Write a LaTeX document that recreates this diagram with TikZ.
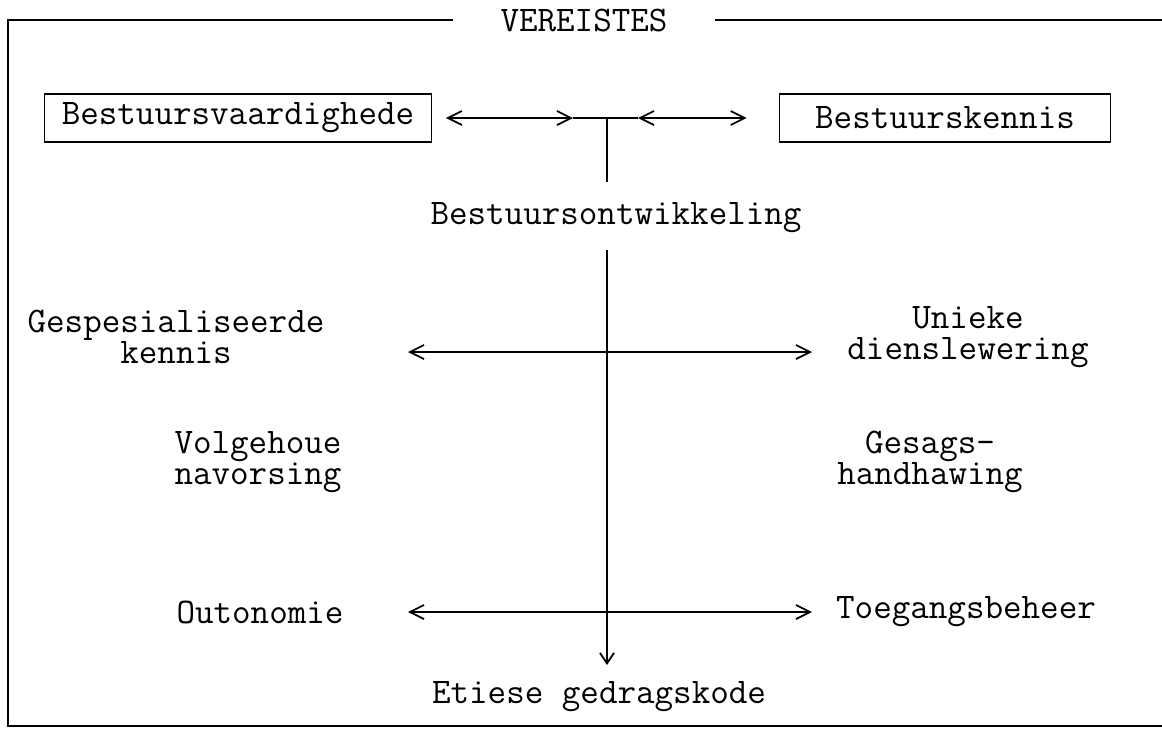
\documentclass[tikz,border=0pt]{standalone}
\usepackage{fontspec}
\usepackage{tikz}
\usetikzlibrary{arrows.meta}

\newcommand{\diagfont}{\fontsize{20.5pt}{17.5pt}\selectfont\ttfamily\lineskiplimit=-50pt\relax}

\tikzset{
  teks/.style={font=\diagfont, align=center, inner sep=1pt},
  kassie/.style={teks, draw, line width=1pt, minimum height=0.96cm},
  raam/.style={line width=1pt},
  pyl/.style={line width=1pt, {Straight Barb[length=8pt,width=8pt]}-{Straight Barb[length=8pt,width=8pt]}},
  afpyl/.style={line width=1pt, -{Straight Barb[length=6pt,width=8pt]}}
}

\begin{document}
\begin{tikzpicture}[x=0.02cm, y=-0.02cm]
    \useasboundingbox (0,0) rectangle (1162,728);

    % Frame with title
    \node[teks, inner xsep=27pt] (titel) at (584,20) {VEREISTES};
    \draw[raam] (titel.west) -- (8,20) -- (8,726) -- (1162,726);
    \draw[raam] (titel.east) -- (1162,20);

    % Top row
    \node[kassie, minimum width=7.74cm] (vaard) at (238,118) {Bestuursvaardighede};
    \node[kassie, minimum width=6.62cm] (kennis) at (945,118) {Bestuurskennis};
    \coordinate (tak) at (607,118);
    \coordinate (stam) at (607,182);

    \draw[pyl] ([xshift=0.27cm]vaard.east) -- ([xshift=-0.68cm]tak);
    \draw[raam] ([xshift=-0.68cm]tak) -- ([xshift=0.62cm]tak);
    \draw[pyl] ([xshift=0.62cm]tak) -- ([xshift=-0.64cm]kennis.west);
    \draw[raam] (tak) -- (stam);

    \node[teks] (ontw) at (616,218) {Bestuursontwikkeling};

    % Side labels
    \node[teks] (spes) at (176,337) {Gespesialiseerde\\kennis};
    \node[teks] (uniek) at (968,337) {Unieke\\dienslewering};
    \node[teks] (volg) at (258,462) {Volgehoue\\navorsing};
    \node[teks] (gesag) at (930,462) {Gesags-\\handhawing};
    \node[teks] (outo) at (260,612) {Outonomie};
    \node[teks] (toeg) at (966,612) {Toegangsbeheer};
    \node[teks] (etiek) at (599,697) {Etiese gedragskode};

    % Main axis and cross arrows
    \coordinate (bo) at (607,250);
    \coordinate (punt) at (607,665);
    \coordinate (ml) at (408,352);
    \coordinate (mr) at (812,352);
    \coordinate (ol) at (408,612);
    \coordinate (or) at (812,612);

    \draw[afpyl] (bo) -- (punt);
    \draw[pyl] (ml) -- (mr);
    \draw[pyl] (ol) -- (or);
\end{tikzpicture}
\end{document}
